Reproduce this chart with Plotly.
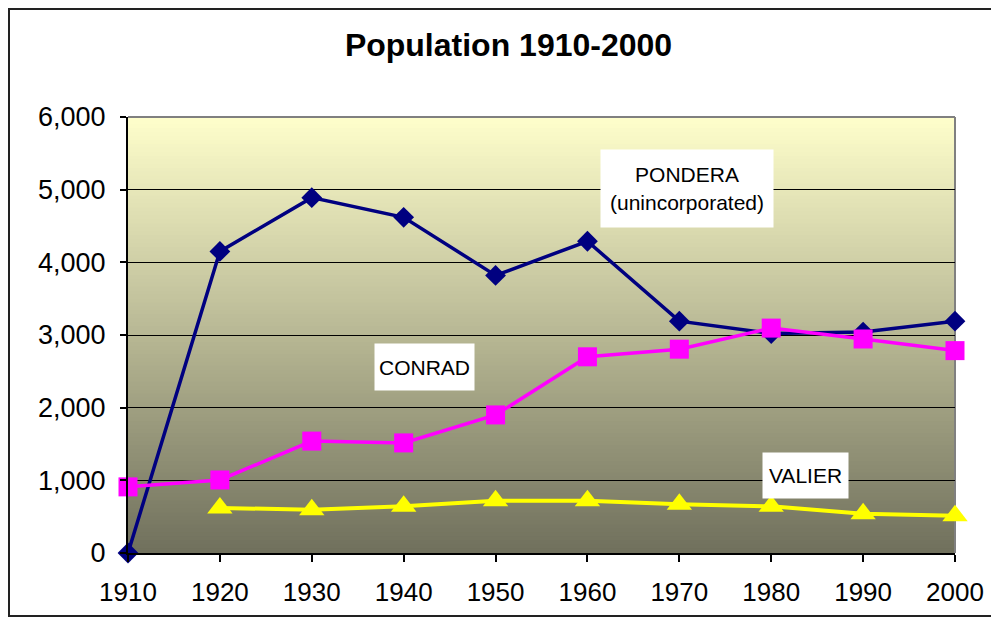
import plotly.graph_objects as go

years = [1910, 1920, 1930, 1940, 1950, 1960, 1970, 1980, 1990, 2000]
pondera = [0, 4150, 4890, 4620, 3820, 4290, 3190, 3020, 3040, 3190]
conrad = [910, 1005, 1540, 1515, 1900, 2700, 2805, 3095, 2945, 2785]
valier = [None, 620, 596, 645, 720, 720, 670, 642, 540, 512]
y_ticks = [0, 1000, 2000, 3000, 4000, 5000, 6000]
y_tick_text = ["0", "1,000", "2,000", "3,000", "4,000", "5,000", "6,000"]

FONT = "Liberation Sans, Arial, sans-serif"

fig = go.Figure()
fig.add_trace(go.Scatter(x=years, y=pondera, mode="lines+markers", name="PONDERA",
                         line=dict(color="#000080", width=3.5),
                         marker=dict(symbol="diamond", size=16, color="#000080"),
                         cliponaxis=False))
fig.add_trace(go.Scatter(x=years, y=conrad, mode="lines+markers", name="CONRAD",
                         line=dict(color="#FF00FF", width=3.5),
                         marker=dict(symbol="square", size=19, color="#FF00FF"),
                         cliponaxis=False))
fig.add_trace(go.Scatter(x=years, y=valier, mode="lines+markers", name="VALIER",
                         line=dict(color="#FFFF00", width=4),
                         marker=dict(symbol="triangle-up", size=22, color="#FFFF00"),
                         cliponaxis=False))

# plot area geometry in figure pixels (page has an 8px body margin)
W, H = 999, 618
L, T, R, B = 120, 109, 947, 545
pw, ph = R - L, B - T

def px_x(px):
    return (px - L) / pw

def px_y(py):
    return (B - py) / ph

# gradient background of plot area
shapes = []
n = 110
top = (255, 255, 204)
bot = (112, 112, 92)
for i in range(n):
    f = (i + 0.5) / n
    c = tuple(int(round(top[k] + (bot[k] - top[k]) * f)) for k in range(3))
    shapes.append(dict(type="rect", xref="paper", yref="paper", layer="below",
                       x0=0, x1=1, y0=1 - (i + 1) / n, y1=1 - i / n + 0.002,
                       fillcolor="rgb(%d,%d,%d)" % c, line=dict(width=0)))
shapes.append(dict(type="line", xref="paper", yref="paper", x0=0, x1=1, y0=1, y1=1,
                   line=dict(color="#808080", width=2), layer="above"))
shapes.append(dict(type="line", xref="paper", yref="paper", x0=1, x1=1, y0=0, y1=1,
                   line=dict(color="#808080", width=2), layer="below"))
# outer chart frame
shapes.append(dict(type="rect", xref="paper", yref="paper",
                   x0=px_x(1), x1=px_x(1010), y0=px_y(608), y1=px_y(1),
                   line=dict(color="#222222", width=2), fillcolor="rgba(0,0,0,0)"))

AF = dict(family=FONT, size=21, color="black")
annotations = [
    dict(text="PONDERA<br>(unincorporated)", xref="paper", yref="paper",
         x=px_x(679), y=px_y(180), xanchor="center", yanchor="middle",
         showarrow=False, bgcolor="white", width=170, height=75, font=AF),
    dict(text="CONRAD", xref="paper", yref="paper", x=px_x(416), y=px_y(359),
         xanchor="center", yanchor="middle",
         showarrow=False, bgcolor="white", width=97, height=44, font=AF),
    dict(text="VALIER", xref="paper", yref="paper", x=px_x(797.5), y=px_y(467),
         xanchor="center", yanchor="middle",
         showarrow=False, bgcolor="white", width=83, height=43, font=AF),
]

fig.update_layout(
    width=W, height=H,
    margin=dict(l=L, r=W - R, t=T, b=H - B),
    paper_bgcolor="white", plot_bgcolor="rgba(0,0,0,0)",
    showlegend=False,
    font=dict(family=FONT, color="black"),
    title=dict(text="<b>Population 1910-2000</b>", x=500.5 / W, xref="container",
               xanchor="center", y=1 - 37 / H, yref="container", yanchor="middle",
               font=dict(family=FONT, size=32, color="black")),
    shapes=shapes,
    annotations=annotations,
)
fig.update_xaxes(range=[1910, 2000], tickvals=years, ticktext=[str(y) for y in years],
                 showgrid=False, zeroline=False, showline=True, linecolor="black", linewidth=2,
                 ticks="outside", ticklen=7, tickwidth=2, tickcolor="black",
                 tickfont=dict(family=FONT, size=26, color="black"), ticklabelstandoff=8)
fig.update_yaxes(range=[0, 6000], tickvals=y_ticks, ticktext=y_tick_text,
                 showgrid=True, gridcolor="black", gridwidth=1, zeroline=False,
                 showline=True, linecolor="black", linewidth=2,
                 ticks="outside", ticklen=6, tickwidth=2, tickcolor="black",
                 tickfont=dict(family=FONT, size=27, color="black"), ticklabelstandoff=9)

fig.write_html("out.html")
